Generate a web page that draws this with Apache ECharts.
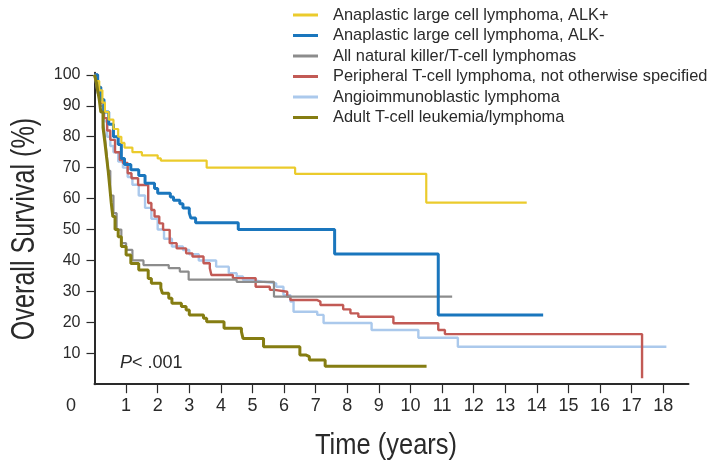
<!DOCTYPE html>
<html>
<head>
<meta charset="utf-8">
<script src="https://cdn.jsdelivr.net/npm/echarts@6/dist/echarts.min.js"></script>
<style>
html,body{margin:0;padding:0;background:#fff;}
#chart{width:711px;height:466px;}
</style>
</head>
<body>
<div id="chart"></div>
<script>
// ---- Data (Kaplan-Meier step points: [time in years, overall survival %]) ----
const seriesNames = [
  'Anaplastic large cell lymphoma, ALK+',
  'Anaplastic large cell lymphoma, ALK-',
  'All natural killer/T-cell lymphomas',
  'Peripheral T-cell lymphoma, not otherwise specified',
  'Angioimmunoblastic lymphoma',
  'Adult T-cell leukemia/lymphoma'
];
const alkPos = [[0,100],[0.05,98],[0.15,95],[0.25,91],[0.33,88],[0.45,85.5],[0.6,82.5],[0.75,80],[0.85,78],[0.95,76.5],[1.2,75],[1.5,74],[2.0,73],[2.1,72.3],[3.55,70],[6.35,68],[10.5,58.7],[13.68,58.7]];
const alkNeg = [[0,100],[0.1,96],[0.2,92],[0.3,88],[0.45,84],[0.6,80],[0.75,77.5],[0.85,73],[0.95,71],[1.15,69.3],[1.4,67.5],[1.6,65],[1.9,63.3],[2.0,61.7],[2.4,60.5],[2.5,59.5],[2.7,58.3],[2.8,57],[3.0,55.3],[3.05,53.7],[3.2,52.2],[4.55,50],[7.6,42.1],[10.88,22.4],[14.2,22.4]];
const nkT = [[0,100],[0.05,97],[0.1,94],[0.18,90],[0.27,85],[0.33,80],[0.38,75],[0.43,69],[0.5,61],[0.6,55.3],[0.7,50],[0.85,45.6],[1.0,43.4],[1.2,40],[1.55,38.5],[2.35,37.5],[2.7,36.4],[2.98,33.8],[4.5,33.1],[5.68,28.3],[11.32,28.3]];
const ptcl = [[0,100],[0.1,96],[0.2,91],[0.3,86],[0.4,82],[0.5,79],[0.65,75],[0.8,72.5],[0.9,71.5],[1.05,68.2],[1.17,66.6],[1.38,64.4],[1.7,58.6],[1.8,56.3],[1.9,54.2],[2.05,52],[2.17,49.9],[2.38,45.6],[2.6,43.9],[2.9,42.3],[3.1,41.3],[3.45,39.1],[3.65,37.5],[3.7,35.3],[4.38,34.3],[5.1,31.5],[5.55,30.5],[5.7,29.9],[6.1,28.3],[6.2,27.2],[7.05,26.7],[7.15,25.6],[7.87,24.2],[8.1,22.9],[8.35,21.8],[9.46,19.7],[10.88,17.5],[11.09,16.2],[17.33,16.2],[17.33,1.9]];
const aitl = [[0,100],[0.1,95],[0.2,90],[0.3,85],[0.4,80],[0.5,77],[0.6,75],[0.75,72],[0.9,70],[1.05,67],[1.2,64.5],[1.4,61],[1.6,57],[1.8,53.5],[2.0,50],[2.2,47],[2.45,44.5],[2.8,43.4],[3.0,42],[3.3,40],[3.85,38],[4.25,35.9],[4.5,34.8],[4.7,33.7],[5.0,33.1],[5.35,32.6],[5.75,31.5],[5.98,28.8],[6.2,26.7],[6.3,23.4],[7.05,22.4],[7.25,19.8],[8.77,17.5],[10.25,15],[11.5,12.1],[18.1,12.1]];
const atll = [[0,100],[0.05,98],[0.1,95],[0.15,92],[0.2,88],[0.27,83],[0.33,78],[0.38,73.6],[0.43,69.3],[0.48,64],[0.53,58.6],[0.58,54.2],[0.65,50],[0.75,47.7],[0.85,44.5],[1.0,41.8],[1.15,39],[1.4,36.9],[1.7,34.2],[1.8,32.6],[2.1,31],[2.15,29.4],[2.35,27.8],[2.45,26.2],[2.75,25.1],[2.9,24],[3.0,22.4],[3.45,21.3],[3.55,20.2],[4.1,18.1],[4.65,17],[4.7,14.8],[5.35,12.1],[6.5,9.4],[6.7,8.9],[6.8,7.8],[7.3,5.8],[10.51,5.8]];
const xTicks = [1,2,3,4,5,6,7,8,9,10,11,12,13,14,15,16,17,18];
const yTicks = [10,20,30,40,50,60,70,80,90,100];

// ---- Styles ----
const colors = ['#ebcb2c','#1a76bd','#8c8c8c','#c25a55','#abc9ec','#857d12'];
const widths = [2.2,3,2.2,2.4,2.4,3];
const datasets = [alkPos, alkNeg, nkT, ptcl, aitl, atll];
const zOrder = [6,5,4,3,2,7];
const FONT = '"Liberation Sans", Arial, Helvetica, sans-serif';

const chart = echarts.init(document.getElementById('chart'));
const series = datasets.map((d, i) => ({
  name: seriesNames[i],
  type: 'line',
  step: 'end',
  data: d,
  showSymbol: false,
  symbol: 'none',
  z: zOrder[i],
  lineStyle: { color: colors[i], width: widths[i] },
  itemStyle: { color: colors[i] },
  animation: false
}));

chart.setOption({
  animation: false,
  backgroundColor: '#fff',
  grid: { left: 94.5, right: 22.5, top: 72.7, bottom: 81.8, containLabel: false },
  legend: {
    orient: 'vertical',
    left: 293,
    top: 6,
    padding: 0,
    itemWidth: 25,
    itemHeight: 3,
    itemGap: 2.5,
    icon: 'rect',
    selectedMode: false,
    data: seriesNames,
    textStyle: {
      fontFamily: FONT,
      fontSize: 16.4,
      lineHeight: 18,
      color: '#2a2a2a',
      padding: [0, 0, 0, 10]
    }
  },
  xAxis: {
    type: 'value',
    min: 0,
    max: 18.8,
    interval: 1,
    splitLine: { show: false },
    axisLine: { show: true, onZero: false, lineStyle: { color: '#2a2a2a', width: 2 } },
    axisTick: { show: true, inside: false, length: 9, customValues: xTicks, lineStyle: { color: '#2a2a2a', width: 1.2 } },
    axisLabel: { customValues: xTicks, margin: 13, fontSize: 18, color: '#2a2a2a', fontFamily: FONT }
  },
  yAxis: {
    type: 'value',
    min: 0,
    max: 100.7,
    interval: 10,
    splitLine: { show: false },
    axisLine: { show: true, lineStyle: { color: '#2a2a2a', width: 2 } },
    axisTick: { show: true, inside: false, length: 8, customValues: yTicks, lineStyle: { color: '#2a2a2a', width: 1.2 } },
    axisLabel: { customValues: yTicks, margin: 14, fontSize: 16, color: '#2a2a2a', fontFamily: FONT }
  },
  graphic: [
    { type: 'text', left: 66, top: 397, style: { text: '0', fontSize: 18, fill: '#2a2a2a', fontFamily: FONT } },
    { type: 'text', x: 386, y: 446, scaleX: 0.85, style: { text: 'Time (years)', fontSize: 30, fill: '#2a2a2a', align: 'center', verticalAlign: 'middle', fontFamily: FONT } },
    { type: 'text', x: 25, y: 229, rotation: Math.PI / 2, scaleX: 0.74, style: { text: 'Overall Survival (%)', fontSize: 34, fill: '#2a2a2a', align: 'center', verticalAlign: 'middle', fontFamily: FONT } },
    { type: 'text', left: 120, top: 354, style: { text: '{i|P}< .001', fontSize: 18, fill: '#2a2a2a', fontFamily: FONT, rich: { i: { fontStyle: 'italic', fontSize: 18, fill: '#2a2a2a', fontFamily: FONT } } } }
  ],
  series: series
});
</script>
</body>
</html>
